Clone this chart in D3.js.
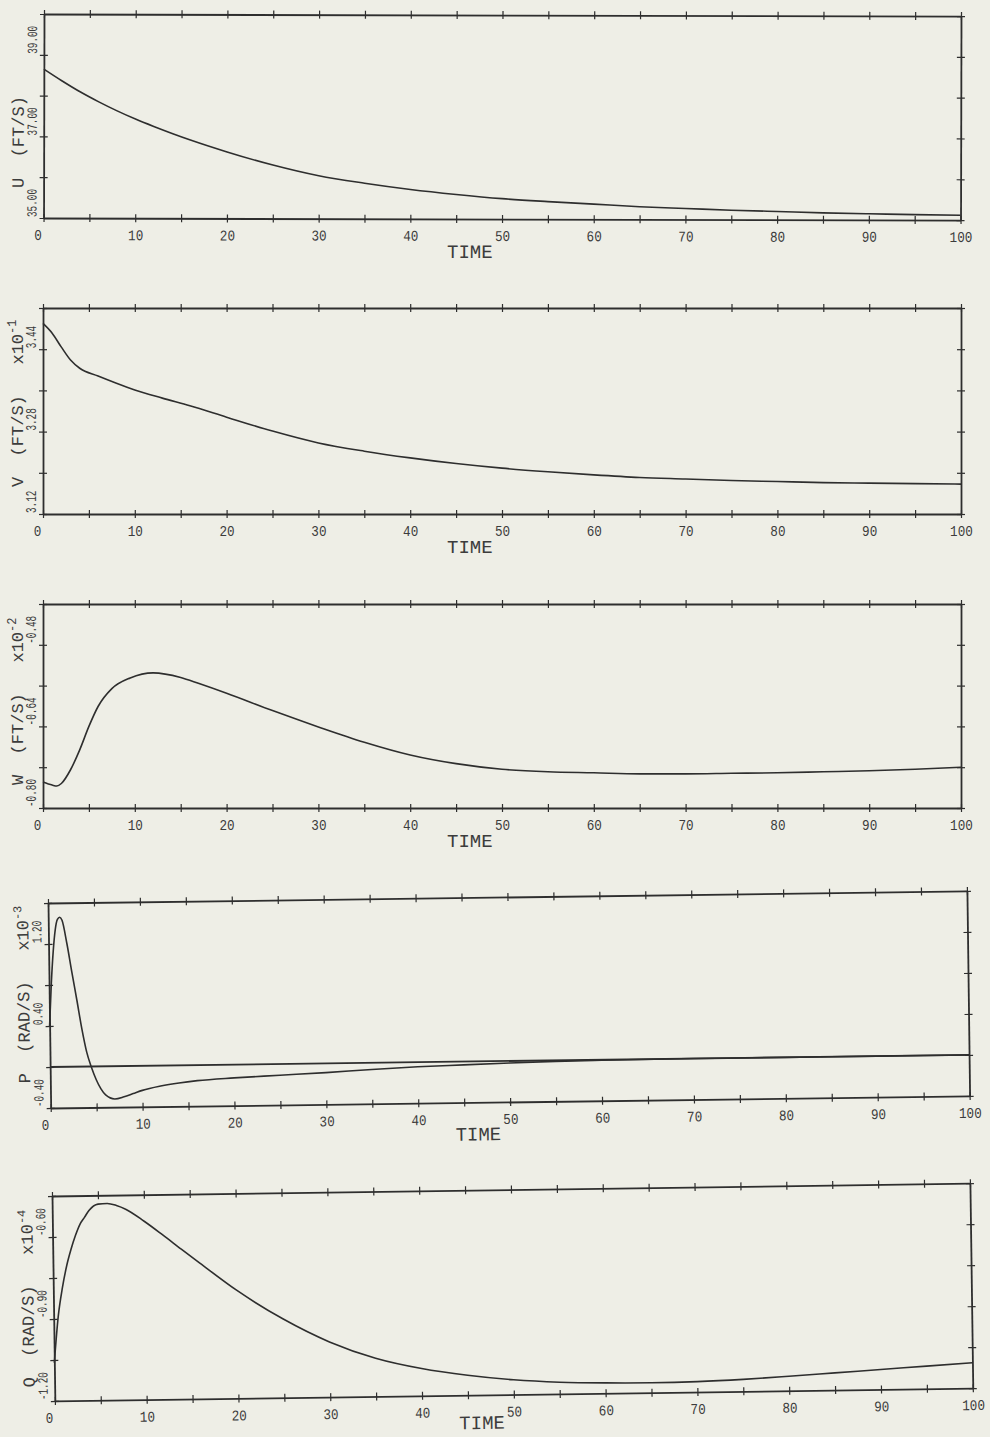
<!DOCTYPE html>
<html>
<head>
<meta charset="utf-8">
<script src="https://cdn.jsdelivr.net/npm/d3@7"></script>
<style>
  html, body { margin: 0; padding: 0; background: #eeeee6; }
  svg { display: block; }
  text { font-family: "Liberation Mono", "DejaVu Sans Mono", monospace; fill: #3c3c3c; }
</style>
</head>
<body>
<svg id="chart" width="990" height="1437"></svg>
<script>
// ---- Time histories (time in seconds) ----
const timeU = [0, 2, 4, 6, 8, 10, 12, 14, 16, 20, 25, 30, 35, 40, 45, 50, 55, 60, 65, 70, 75, 80, 85, 90, 95, 100];
const valuesU = [38.65, 38.36, 38.09, 37.85, 37.63, 37.43, 37.25, 37.08, 36.92, 36.63, 36.31, 36.05, 35.87, 35.72, 35.60, 35.50, 35.43, 35.37, 35.31, 35.27, 35.23, 35.20, 35.17, 35.15, 35.13, 35.12];

const timeV = [0, 1, 2, 3, 4, 6, 8, 10, 13, 16, 20, 25, 30, 35, 40, 45, 50, 55, 60, 65, 70, 75, 80, 85, 90, 95, 100];
const valuesV = [3.490, 3.471, 3.444, 3.419, 3.403, 3.388, 3.374, 3.361, 3.345, 3.330, 3.308, 3.281, 3.258, 3.242, 3.229, 3.218, 3.209, 3.202, 3.196, 3.191, 3.188, 3.185, 3.183, 3.181, 3.180, 3.179, 3.178];

const timeW = [0, 1, 1.5, 2, 3, 4, 5, 6, 7.5, 9.5, 12, 15, 17, 20, 25, 30, 35, 40, 45, 50, 55, 60, 65, 70, 75, 80, 85, 90, 95, 100];
const valuesW = [-0.749, -0.755, -0.757, -0.752, -0.725, -0.686, -0.640, -0.601, -0.566, -0.545, -0.535, -0.544, -0.556, -0.575, -0.609, -0.641, -0.671, -0.696, -0.713, -0.724, -0.729, -0.731, -0.733, -0.733, -0.732, -0.731, -0.729, -0.727, -0.724, -0.720];

const timeP = [0, 0.25, 0.5, 0.75, 1, 1.25, 1.5, 2, 2.5, 3, 3.5, 4, 4.5, 5, 5.5, 6, 7, 8, 9, 10, 12, 14, 16, 20, 25, 30, 35, 40, 45, 50, 55, 60, 70, 80, 90, 100];
const valuesP = [0.40, 0.82, 1.13, 1.34, 1.44, 1.46, 1.43, 1.20, 0.92, 0.65, 0.37, 0.14, -0.01, -0.13, -0.22, -0.28, -0.32, -0.30, -0.27, -0.24, -0.20, -0.172, -0.152, -0.13, -0.11, -0.09, -0.065, -0.045, -0.032, -0.02, -0.01, -0.004, 0.0, 0.0, 0.0, 0.0];

const timeQ = [0, 0.5, 1, 1.5, 2, 2.5, 3, 3.5, 4, 5, 6, 7, 8, 10, 12, 14, 16, 20, 25, 30, 35, 40, 45, 50, 55, 60, 65, 70, 75, 80, 85, 90, 95, 100];
const valuesQ = [-1.06, -0.89, -0.785, -0.705, -0.645, -0.595, -0.555, -0.53, -0.505, -0.482, -0.480, -0.488, -0.502, -0.547, -0.598, -0.651, -0.703, -0.805, -0.912, -0.998, -1.060, -1.100, -1.127, -1.146, -1.157, -1.162, -1.164, -1.162, -1.156, -1.147, -1.137, -1.127, -1.117, -1.107];

// ---- Axis ranges and labels ----
const timeDomain = [0, 100];
const timeTicks = d3.range(0, 101, 5);
const timeLabels = d3.range(0, 101, 10);
const timeTitle = "TIME";

const yDomains = [[35, 40], [3.12, 3.52], [-0.80, -0.40], [-0.40, 1.60], [-1.20, -0.45]];
const yLabelValues = [[35, 37, 39], [3.12, 3.28, 3.44], [-0.80, -0.64, -0.48], [-0.40, 0.40, 1.20], [-1.20, -0.90, -0.60]];
const yTitles = ["U  (FT/S)", "V  (FT/S)", "W  (FT/S)", "P  (RAD/S)", "Q  (RAD/S)"];
const yExponents = [null, "-1", "-2", "-3", "-4"];
const zeroLines = [false, false, false, true, false];

const seriesTimes = [timeU, timeV, timeW, timeP, timeQ];
const seriesValues = [valuesU, valuesV, valuesW, valuesP, valuesQ];

// ---- Panel placement on the page ----
const frames = [
  { left: 44, top: 14,   width: 917, height: 204, angle: 0.13, titleGap: 30, captionGap: 39 },
  { left: 43, top: 308,  width: 918, height: 206, angle: 0,    titleGap: 27, captionGap: 39 },
  { left: 43, top: 604,  width: 918, height: 204, angle: 0,    titleGap: 23, captionGap: 39 },
  { left: 48, top: 903,  width: 919, height: 205, angle: -0.75, titleGap: 25, captionGap: 38 },
  { left: 52, top: 1196, width: 918, height: 205, angle: -0.8, titleGap: 14, captionGap: 34 }
];

const ink = "#2e2e2e";
const svg = d3.select("#chart");
svg.append("rect").attr("width", 990).attr("height", 1437).attr("fill", "#eeeee6");

function crossTicks(sel) {
  sel.select(".domain").attr("stroke", ink).attr("stroke-width", 1.8);
  sel.selectAll(".tick line").attr("stroke", ink).attr("stroke-width", 1.2);
}

frames.forEach((f, i) => {
  const g = svg.append("g")
    .attr("transform", `translate(${f.left},${f.top}) rotate(${f.angle})`);

  const x = d3.scaleLinear().domain(timeDomain).range([0, f.width]);
  const y = d3.scaleLinear().domain(yDomains[i]).range([f.height, 0]);
  const [d0, d1] = yDomains[i];
  const yTicks = d3.range(0, 6).map(k => d0 + k * (d1 - d0) / 5);

  // bottom axis, labelled every 10
  const bottom = g.append("g").attr("transform", `translate(0,${f.height})`)
    .call(d3.axisBottom(x).tickValues(timeTicks).tickSize(4).tickSizeOuter(0)
      .tickFormat(d => timeLabels.includes(d) ? String(d) : ""));
  crossTicks(bottom);
  bottom.attr("font-family", null);
  bottom.selectAll(".tick line").attr("y1", -4);
  bottom.selectAll(".tick text")
    .attr("y", 22).attr("dy", 0)
    .attr("x", d => d === 0 ? -6 : 0)
    .attr("font-size", 15)
    .attr("fill", "#3c3c3c")
    .each(function (d) {
      const s = timeLabels.includes(d) ? String(d) : "";
      if (s) d3.select(this).attr("textLength", s.length * 7.6).attr("lengthAdjust", "spacingAndGlyphs");
    });

  // top axis
  const top = g.append("g")
    .call(d3.axisTop(x).tickValues(timeTicks).tickSize(4).tickSizeOuter(0).tickFormat(""));
  crossTicks(top);
  top.selectAll(".tick line").attr("y1", 4);

  // left axis
  const left = g.append("g")
    .call(d3.axisLeft(y).tickValues(yTicks).tickSize(4).tickSizeOuter(0).tickFormat(""));
  crossTicks(left);
  left.selectAll(".tick line").attr("x1", 4);

  // right axis
  const right = g.append("g").attr("transform", `translate(${f.width},0)`)
    .call(d3.axisRight(y).tickValues(yTicks).tickSize(4).tickSizeOuter(0).tickFormat(""));
  crossTicks(right);
  right.selectAll(".tick line").attr("x1", -4);

  // rotated value labels on the left axis
  g.selectAll("text.ylab").data(yLabelValues[i]).join("text")
    .attr("class", "ylab")
    .attr("transform", v => `translate(-7,${y(v) - 1}) rotate(-90)`)
    .attr("font-size", 14)
    .attr("text-anchor", "start")
    .attr("textLength", v => v.toFixed(2).length * 5.6)
    .attr("lengthAdjust", "spacingAndGlyphs")
    .text(v => v.toFixed(2));

  // axis title with scale exponent
  const title = g.append("text")
    .attr("transform", `translate(-20,${f.height - f.titleGap}) rotate(-90)`)
    .attr("font-size", 17)
    .attr("text-anchor", "start")
    .style("white-space", "pre");
  title.append("tspan").text(yTitles[i]);
  if (yExponents[i]) {
    title.append("tspan").text("   x10");
    title.append("tspan").attr("font-size", 12).attr("dy", -7).text(yExponents[i]);
  }

  // time caption
  g.append("text")
    .attr("x", x(46.5)).attr("y", f.height + f.captionGap)
    .attr("text-anchor", "middle")
    .attr("font-size", 19)
    .text(timeTitle);

  // zero reference line
  if (zeroLines[i]) {
    g.append("line")
      .attr("x1", 0).attr("x2", f.width)
      .attr("y1", y(0)).attr("y2", y(0))
      .attr("stroke", ink).attr("stroke-width", 1.8);
  }

  // response curve
  const pts = seriesTimes[i].map((t, k) => [t, seriesValues[i][k]]);
  g.append("path")
    .datum(pts)
    .attr("fill", "none")
    .attr("stroke", ink)
    .attr("stroke-width", 1.6)
    .attr("d", d3.line().x(d => x(d[0])).y(d => y(d[1])).curve(d3.curveMonotoneX));
});
</script>
</body>
</html>
